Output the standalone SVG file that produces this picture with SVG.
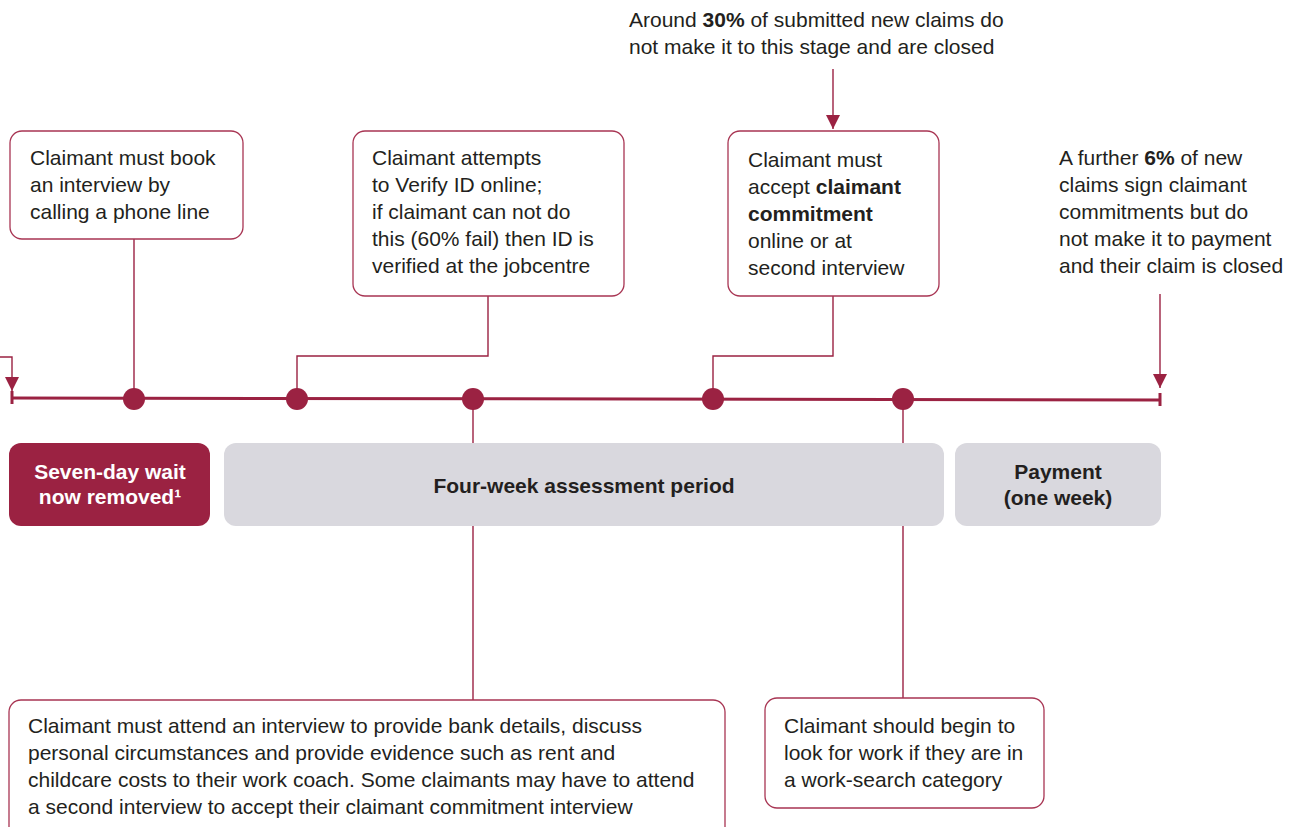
<svg xmlns="http://www.w3.org/2000/svg" width="1300" height="827" viewBox="0 0 1300 827">
<defs>
<style>
.t{font-family:"Liberation Sans",Arial,sans-serif;font-size:21px;fill:#231f20}
.b{font-weight:bold}
.box{fill:#fff;stroke:#a83553;stroke-width:1.3}
.con{fill:none;stroke:#9b2242;stroke-width:1.4}
.tl{stroke:#9b2242;stroke-width:3;fill:none}
.dot{fill:#9b2242}
.bar{fill:#d9d8de}
.bt{font-family:"Liberation Sans",Arial,sans-serif;font-size:21px;font-weight:bold;fill:#231f20;text-anchor:middle}
.wt{fill:#fff}
</style>
<marker id="ad" markerWidth="14" markerHeight="14" refX="14" refY="7" orient="auto" markerUnits="userSpaceOnUse" viewBox="0 0 14 14">
<path d="M0,0 L14,7 L0,14 Z" fill="#9b2242"/>
</marker>
</defs>

<g id="connectors">
<path class="con" d="M0,357 H12 V391" marker-end="url(#ad)"/>
<path class="con" d="M134,239 V399"/>
<path class="con" d="M488,296 V356 H297 V399"/>
<path class="con" d="M833,296 V356 H713 V399"/>
<path class="con" d="M833,69 V129" marker-end="url(#ad)"/>
<path class="con" d="M1160,294 V388" marker-end="url(#ad)"/>
<path class="con" d="M473,399 V700"/>
<path class="con" d="M903,399 V698"/>
</g>

<g id="timeline">
<path class="tl" d="M12,398 L1160,400"/>
<path class="tl" d="M12,391 V404" stroke-width="2"/>
<path class="tl" d="M1160,393 V406" stroke-width="2"/>
<circle class="dot" cx="134" cy="399" r="11"/>
<circle class="dot" cx="297" cy="399" r="11"/>
<circle class="dot" cx="473" cy="399" r="11"/>
<circle class="dot" cx="713" cy="399" r="11"/>
<circle class="dot" cx="903" cy="399" r="11"/>
</g>

<g id="seven-day">
<rect x="9" y="443" width="201" height="83" rx="12" fill="#9b2242"/>
<text class="bt wt" x="110" y="479" style="fill:#fff">Seven-day wait</text>
<text class="bt wt" x="110" y="504" style="fill:#fff">now removed¹</text>
</g>

<g id="assessment">
<rect class="bar" x="224" y="443" width="720" height="83" rx="12"/>
<text class="bt" x="584" y="493">Four-week assessment period</text>
</g>

<g id="payment">
<rect class="bar" x="955" y="443" width="206" height="83" rx="12"/>
<text class="bt" x="1058" y="479">Payment</text>
<text class="bt" x="1058" y="505">(one week)</text>
</g>

<g id="book-interview">
<rect class="box" x="10" y="131" width="233" height="108" rx="12"/>
<text class="t" x="30" y="165">Claimant must book</text>
<text class="t" x="30" y="192">an interview by</text>
<text class="t" x="30" y="219">calling a phone line</text>
</g>

<g id="verify-id">
<rect class="box" x="353" y="131" width="271" height="165" rx="12"/>
<text class="t" x="372" y="165">Claimant attempts</text>
<text class="t" x="372" y="192">to Verify ID online;</text>
<text class="t" x="372" y="219">if claimant can not do</text>
<text class="t" x="372" y="246">this (60% fail) then ID is</text>
<text class="t" x="372" y="273">verified at the jobcentre</text>
</g>

<g id="commitment">
<rect class="box" x="728" y="131" width="211" height="165" rx="12"/>
<text class="t" x="748" y="167">Claimant must</text>
<text class="t" x="748" y="194">accept <tspan class="b">claimant</tspan></text>
<text class="t b" x="748" y="221">commitment</text>
<text class="t" x="748" y="248">online or at</text>
<text class="t" x="748" y="275">second interview</text>
</g>

<g id="note-30">
<text class="t" x="629" y="27">Around <tspan class="b">30%</tspan> of submitted new claims do</text>
<text class="t" x="629" y="54">not make it to this stage and are closed</text>
</g>

<g id="note-6">
<text class="t" x="1059" y="165">A further <tspan class="b">6%</tspan> of new</text>
<text class="t" x="1059" y="192">claims sign claimant</text>
<text class="t" x="1059" y="219">commitments but do</text>
<text class="t" x="1059" y="246">not make it to payment</text>
<text class="t" x="1059" y="273">and their claim is closed</text>
</g>

<g id="bank-interview">
<rect class="box" x="9" y="700" width="716" height="140" rx="12"/>
<text class="t" x="28" y="733">Claimant must attend an interview to provide bank details, discuss</text>
<text class="t" x="28" y="760">personal circumstances and provide evidence such as rent and</text>
<text class="t" x="28" y="787">childcare costs to their work coach. Some claimants may have to attend</text>
<text class="t" x="28" y="814">a second interview to accept their claimant commitment interview</text>
</g>

<g id="look-for-work">
<rect class="box" x="765" y="698" width="279" height="110" rx="12"/>
<text class="t" x="784" y="733">Claimant should begin to</text>
<text class="t" x="784" y="760">look for work if they are in</text>
<text class="t" x="784" y="787">a work-search category</text>
</g>
</svg>
